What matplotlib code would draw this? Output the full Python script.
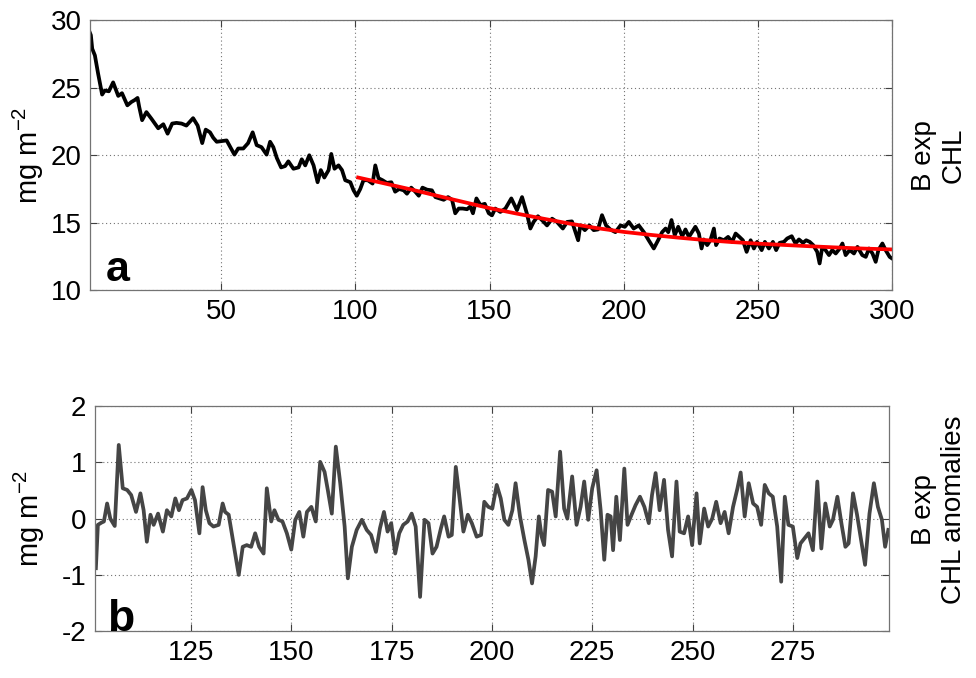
import numpy as np
import matplotlib.pyplot as plt

plt.rcParams['font.family'] = ['Liberation Sans', 'DejaVu Sans']
plt.rcParams['mathtext.fontset'] = 'custom'
plt.rcParams['mathtext.rm'] = 'Liberation Sans'
plt.rcParams['axes.unicode_minus'] = False

# panel a: CHL (mg m-2)
chl_day = [1, 1.4, 1.9, 2.9, 4.1, 5.6, 6.6, 8.1, 9.7, 11.6, 13, 15, 16.5, 17.8, 18.8, 19.4,
           20.5, 22.1, 24, 26.5, 28.4, 30, 31.7, 33.3, 35.2, 37, 39.5, 41.2, 42.9, 44.2,
           45.8, 47, 48.3, 50.1, 52, 54.9, 56.3, 58.2, 60, 61.7, 63.2, 65, 66.9, 68.2,
           69.4, 70.7, 72.3, 73.8, 75, 76.9, 78.8, 80, 81.3, 82.8, 84.4, 85.9, 87.1, 88.4,
           90, 91, 92.2, 93.7, 95, 96.2, 98.1, 99.3, 100.5, 101.8, 103, 104.6, 106.4,
           107.4, 108.6, 110.1, 111.7, 113.4, 114.8, 116.3, 118, 119.2, 120.8, 122.3,
           123.6, 125, 126.7, 128.5, 129.8, 131.3, 132.9, 134.5, 136, 137.2, 138.5, 140,
           141.6, 142.8, 143.8, 145.1, 146.6, 148.2, 149.7, 150.9, 152.1, 154, 155.9,
           158.1, 160.2, 162.1, 163.9, 165.2, 166.4, 168, 169.5, 171.4, 173.3, 175.1,
           177.3, 178.9, 180.7, 182, 183, 183.8, 185.5, 187.2, 188.8, 190.4, 191.9, 193.4,
           195, 196.9, 198.8, 200.4, 201.9, 203.7, 205.6, 207.5, 209.3, 211.2, 212.8,
           214.3, 215.6, 216.6, 217.8, 219, 220.3, 221.8, 223, 224.3, 226.7, 228, 229,
           229.8, 231.1, 232.3, 233.6, 234.4, 235.7, 237.3, 238.9, 240.4, 241.7, 243.1,
           244.4, 245.8, 247.3, 248.5, 249.7, 251.4, 252.6, 254.1, 255.6, 256.8, 258.1,
           259.7, 260.9, 262.6, 264, 265.3, 266.8, 268, 269.3, 270.6, 272.1, 273, 274,
           275.2, 276.5, 277.7, 279, 280.5, 281.5, 282.7, 284.2, 285.8, 287.1, 288.9,
           290.2, 291.4, 292.7, 293.9, 294.9, 296.4, 297.6, 299.1, 300]
chl_val = [29.1, 28.9, 27.9, 27.4, 26.05, 24.5, 24.8, 24.74, 25.4, 24.4, 24.6, 23.7, 23.95,
           24.1, 24.25, 23.6, 22.6, 23.2, 22.7, 22.0, 22.3, 21.6, 22.35, 22.4, 22.35, 22.2,
           22.75, 22.2, 20.9, 21.9, 21.7, 21.3, 21.0, 21.05, 21.1, 20.05, 20.5, 20.5, 20.9,
           21.7, 20.75, 20.6, 20.05, 21.0, 20.6, 19.8, 19.1, 19.2, 19.55, 19.0, 19.1, 19.7,
           19.25, 20.0, 19.25, 18.0, 18.9, 18.35, 18.9, 20.1, 19.0, 19.25, 18.9, 18.15,
           18.0, 17.4, 17.0, 17.5, 18.15, 18.15, 17.9, 19.25, 18.3, 18.15, 17.95, 18.0,
           17.3, 17.5, 17.4, 17.15, 17.6, 17.3, 17.0, 17.6, 17.45, 17.4, 16.9, 16.8, 16.7,
           16.9, 16.7, 15.7, 16.05, 16.05, 16.0, 16.2, 15.7, 16.8, 16.3, 16.4, 15.7, 15.55,
           16.05, 15.8, 16.05, 16.8, 15.93, 16.9, 15.68, 14.57, 15.06, 15.48, 15.2, 14.8,
           15.3, 15.06, 14.57, 15.06, 15.1, 14.3, 13.7, 14.8, 14.45, 14.8, 14.45, 14.5,
           15.56, 14.8, 14.5, 14.3, 14.8, 14.7, 15.06, 14.57, 14.8, 14.3, 13.7, 13.09, 13.7,
           14.3, 14.57, 14.3, 15.2, 14.07, 14.7, 14.0, 14.5, 13.95, 14.7, 14.2, 13.09,
           13.76, 13.34, 13.7, 14.57, 13.34, 13.83, 13.7, 13.95, 13.58, 14.2, 13.95, 13.7,
           12.84, 13.7, 13.09, 13.58, 12.97, 13.58, 13.09, 13.58, 12.97, 13.51, 13.58,
           13.83, 14.0, 13.46, 13.76, 13.51, 13.7, 13.58, 13.34, 12.84, 11.98, 13.21, 12.97,
           12.6, 12.97, 12.72, 13.09, 13.46, 12.6, 12.97, 12.72, 13.21, 12.6, 12.47, 13.09,
           12.72, 12.1, 12.97, 13.46, 12.97, 12.47, 12.35]

# exponential fit over days 101-300
fit_day = [101, 110, 120, 130, 140, 150, 160, 170, 180, 190, 200, 210, 220, 230, 240,
           250, 260, 270, 280, 290, 300]
fit_val = [18.35, 17.95, 17.5, 17.02, 16.55, 16.08, 15.68, 15.3, 14.93, 14.6, 14.32,
           14.1, 13.9, 13.72, 13.57, 13.45, 13.35, 13.25, 13.16, 13.08, 13.02]

# panel b: CHL anomalies (mg m-2)
anom_day = [101.3, 101.8, 102.7, 103.3, 104.1, 104.9, 106, 107, 108, 109.1, 110.1, 111.3,
            112.4, 113.2, 114, 114.9, 115.7, 116.8, 118, 119, 120.1, 121.1, 122, 122.9,
            124, 125.1, 126, 127.1, 127.9, 128.7, 129.6, 130.6, 131.9, 132.9, 133.5,
            134.4, 135.6, 136.9, 137.9, 138.9, 140, 141, 142, 143.1, 143.9, 145, 145.8,
            146.8, 147.8, 148.9, 150, 151, 152, 153, 153.9, 155, 156.1, 157.2, 158.3,
            159.1, 160.1, 161.1, 162.2, 163.3, 164.1, 165.1, 166.3, 167.6, 168.8, 169.9,
            171.1, 172.1, 173.1, 174, 174.9, 175.9, 176.9, 177.9, 179, 180, 181, 182.1,
            183.2, 184.2, 185.2, 186.2, 187.3, 188.1, 189.2, 190, 191, 191.8, 192.9, 194,
            195, 196.2, 197.3, 198.1, 199.1, 200.1, 201.2, 202.2, 203.1, 204.1, 205.1,
            205.9, 207, 208.1, 209.1, 210, 210.9, 211.7, 212.4, 213, 214, 215, 215.9, 217,
            218, 218.8, 220, 221.1, 222.1, 223, 224, 225, 226.1, 227.1, 228, 228.8, 229.6,
            230.2, 231, 231.9, 233, 233.8, 234.8, 235.8, 236.9, 238, 239.1, 239.9, 240.8,
            241.8, 242.9, 243.9, 244.9, 246, 246.8, 247.9, 248.9, 249.9, 251, 251.8,
            252.9, 253.9, 254.9, 255.9, 257, 258, 259, 260.1, 261.2, 262, 263, 264, 265.1,
            266.1, 267.1, 268, 269, 270, 271.1, 272.1, 273, 273.9, 275, 276.1, 276.9,
            277.9, 278.9, 280, 281.1, 282.1, 283.1, 284.2, 285, 286.1, 287.1, 288.1,
            288.9, 290, 291, 292, 293, 294.1, 295.2, 296.2, 297.2, 298, 298.8]
anom_val = [-0.88, -0.11, -0.07, -0.05, 0.27, 0.0, -0.13, 1.31, 0.54, 0.51, 0.42, 0.12,
            0.45, 0.15, -0.41, 0.07, -0.11, 0.09, -0.23, 0.15, 0.04, 0.36, 0.15, 0.33,
            0.36, 0.51, 0.33, -0.26, 0.56, 0.15, -0.08, -0.14, -0.11, 0.27, 0.12, 0.07,
            -0.44, -1.0, -0.5, -0.47, -0.5, -0.26, -0.5, -0.62, 0.54, -0.05, 0.15, -0.02,
            -0.05, -0.26, -0.55, -0.02, 0.12, -0.32, 0.12, 0.21, -0.05, 1.01, 0.83, 0.51,
            0.09, 1.28, 0.63, -0.14, -1.06, -0.5, -0.2, -0.02, -0.2, -0.29, -0.59, -0.17,
            0.12, -0.23, -0.08, -0.62, -0.26, -0.11, -0.05, 0.09, -0.14, -1.39, -0.02,
            -0.08, -0.62, -0.5, -0.17, 0.04, -0.32, -0.29, 0.92, 0.45, -0.23, 0.07, -0.08,
            -0.32, -0.29, 0.3, 0.21, 0.18, 0.6, 0.36, -0.02, -0.11, 0.15, 0.63, 0.04, -0.38,
            -0.73, -1.15, -0.67, 0.04, -0.32, -0.47, 0.51, 0.48, 0.04, 1.19, 0.18, 0.0,
            0.75, -0.11, 0.21, 0.66, -0.02, 0.54, 0.86, 0.15, -0.73, 0.07, 0.04, -0.56,
            0.39, -0.38, 0.89, -0.11, 0.07, 0.24, 0.39, 0.21, -0.08, 0.42, 0.81, 0.15, 0.69,
            -0.2, -0.67, 0.66, -0.23, -0.26, 0.04, -0.47, 0.45, -0.44, 0.18, -0.14, 0.0,
            0.3, -0.08, 0.12, -0.26, 0.21, 0.54, 0.82, 0.04, 0.63, 0.27, 0.21, -0.11, 0.6,
            0.45, 0.39, -0.14, -1.12, 0.39, -0.11, -0.14, -0.7, -0.44, -0.35, -0.26, -0.56,
            0.66, -0.53, 0.27, -0.14, -0.02, 0.39, -0.08, -0.5, -0.44, 0.45, 0.07, -0.38,
            -0.82, 0.09, 0.63, 0.21, -0.02, -0.5, -0.2]

fs = 20


def style(ax):
    ax.tick_params(direction='in', top=True, right=True, labelsize=fs, length=5,
                   width=0.8, color='0.25', pad=6)
    ax.grid(True, linestyle=(0, (1, 2.5)), color='0.45', linewidth=0.8)
    for s in ax.spines.values():
        s.set_color('0.45')
        s.set_linewidth(0.9)


fig = plt.figure(figsize=(9.76, 6.78), dpi=100)

ax1 = fig.add_axes([0.092, 0.572, 0.822, 0.398])
ax1.plot(chl_day, chl_val, color='black', lw=2.7)
ax1.plot(fit_day, fit_val, color='red', lw=2.7)
ax1.set_xlim(1, 300)
ax1.set_ylim(10, 30)
ax1.set_xticks([50, 100, 150, 200, 250, 300])
ax1.set_yticks([10, 15, 20, 25, 30])
style(ax1)
ax1.set_ylabel('mg m$^{\\mathregular{-2}}$', fontsize=21)
ax1.yaxis.set_label_coords(-0.054, 0.5)
ax1.text(0.02, 0.035, 'a', transform=ax1.transAxes, fontsize=31, fontweight='bold')

ax2 = fig.add_axes([0.097, 0.069, 0.814, 0.332])
ax2.plot(anom_day, anom_val, color='#454545', lw=2.7)
ax2.set_xlim(101, 299)
ax2.set_ylim(-2, 2)
ax2.set_xticks([125, 150, 175, 200, 225, 250, 275])
ax2.set_yticks([-2, -1, 0, 1, 2])
style(ax2)
ax2.set_ylabel('mg m$^{\\mathregular{-2}}$', fontsize=21)
ax2.yaxis.set_label_coords(-0.06, 0.5)
ax2.text(0.016, 0.0, 'b', transform=ax2.transAxes, fontsize=32, fontweight='bold')

fig.text(0.962, 0.771, 'B exp\nCHL', rotation=90, ha='center', va='center',
         multialignment='center', fontsize=fs)
fig.text(0.962, 0.248, 'B exp\nCHL anomalies', rotation=90, ha='center', va='center',
         multialignment='center', fontsize=fs)

fig.savefig('out.png', dpi=100)
